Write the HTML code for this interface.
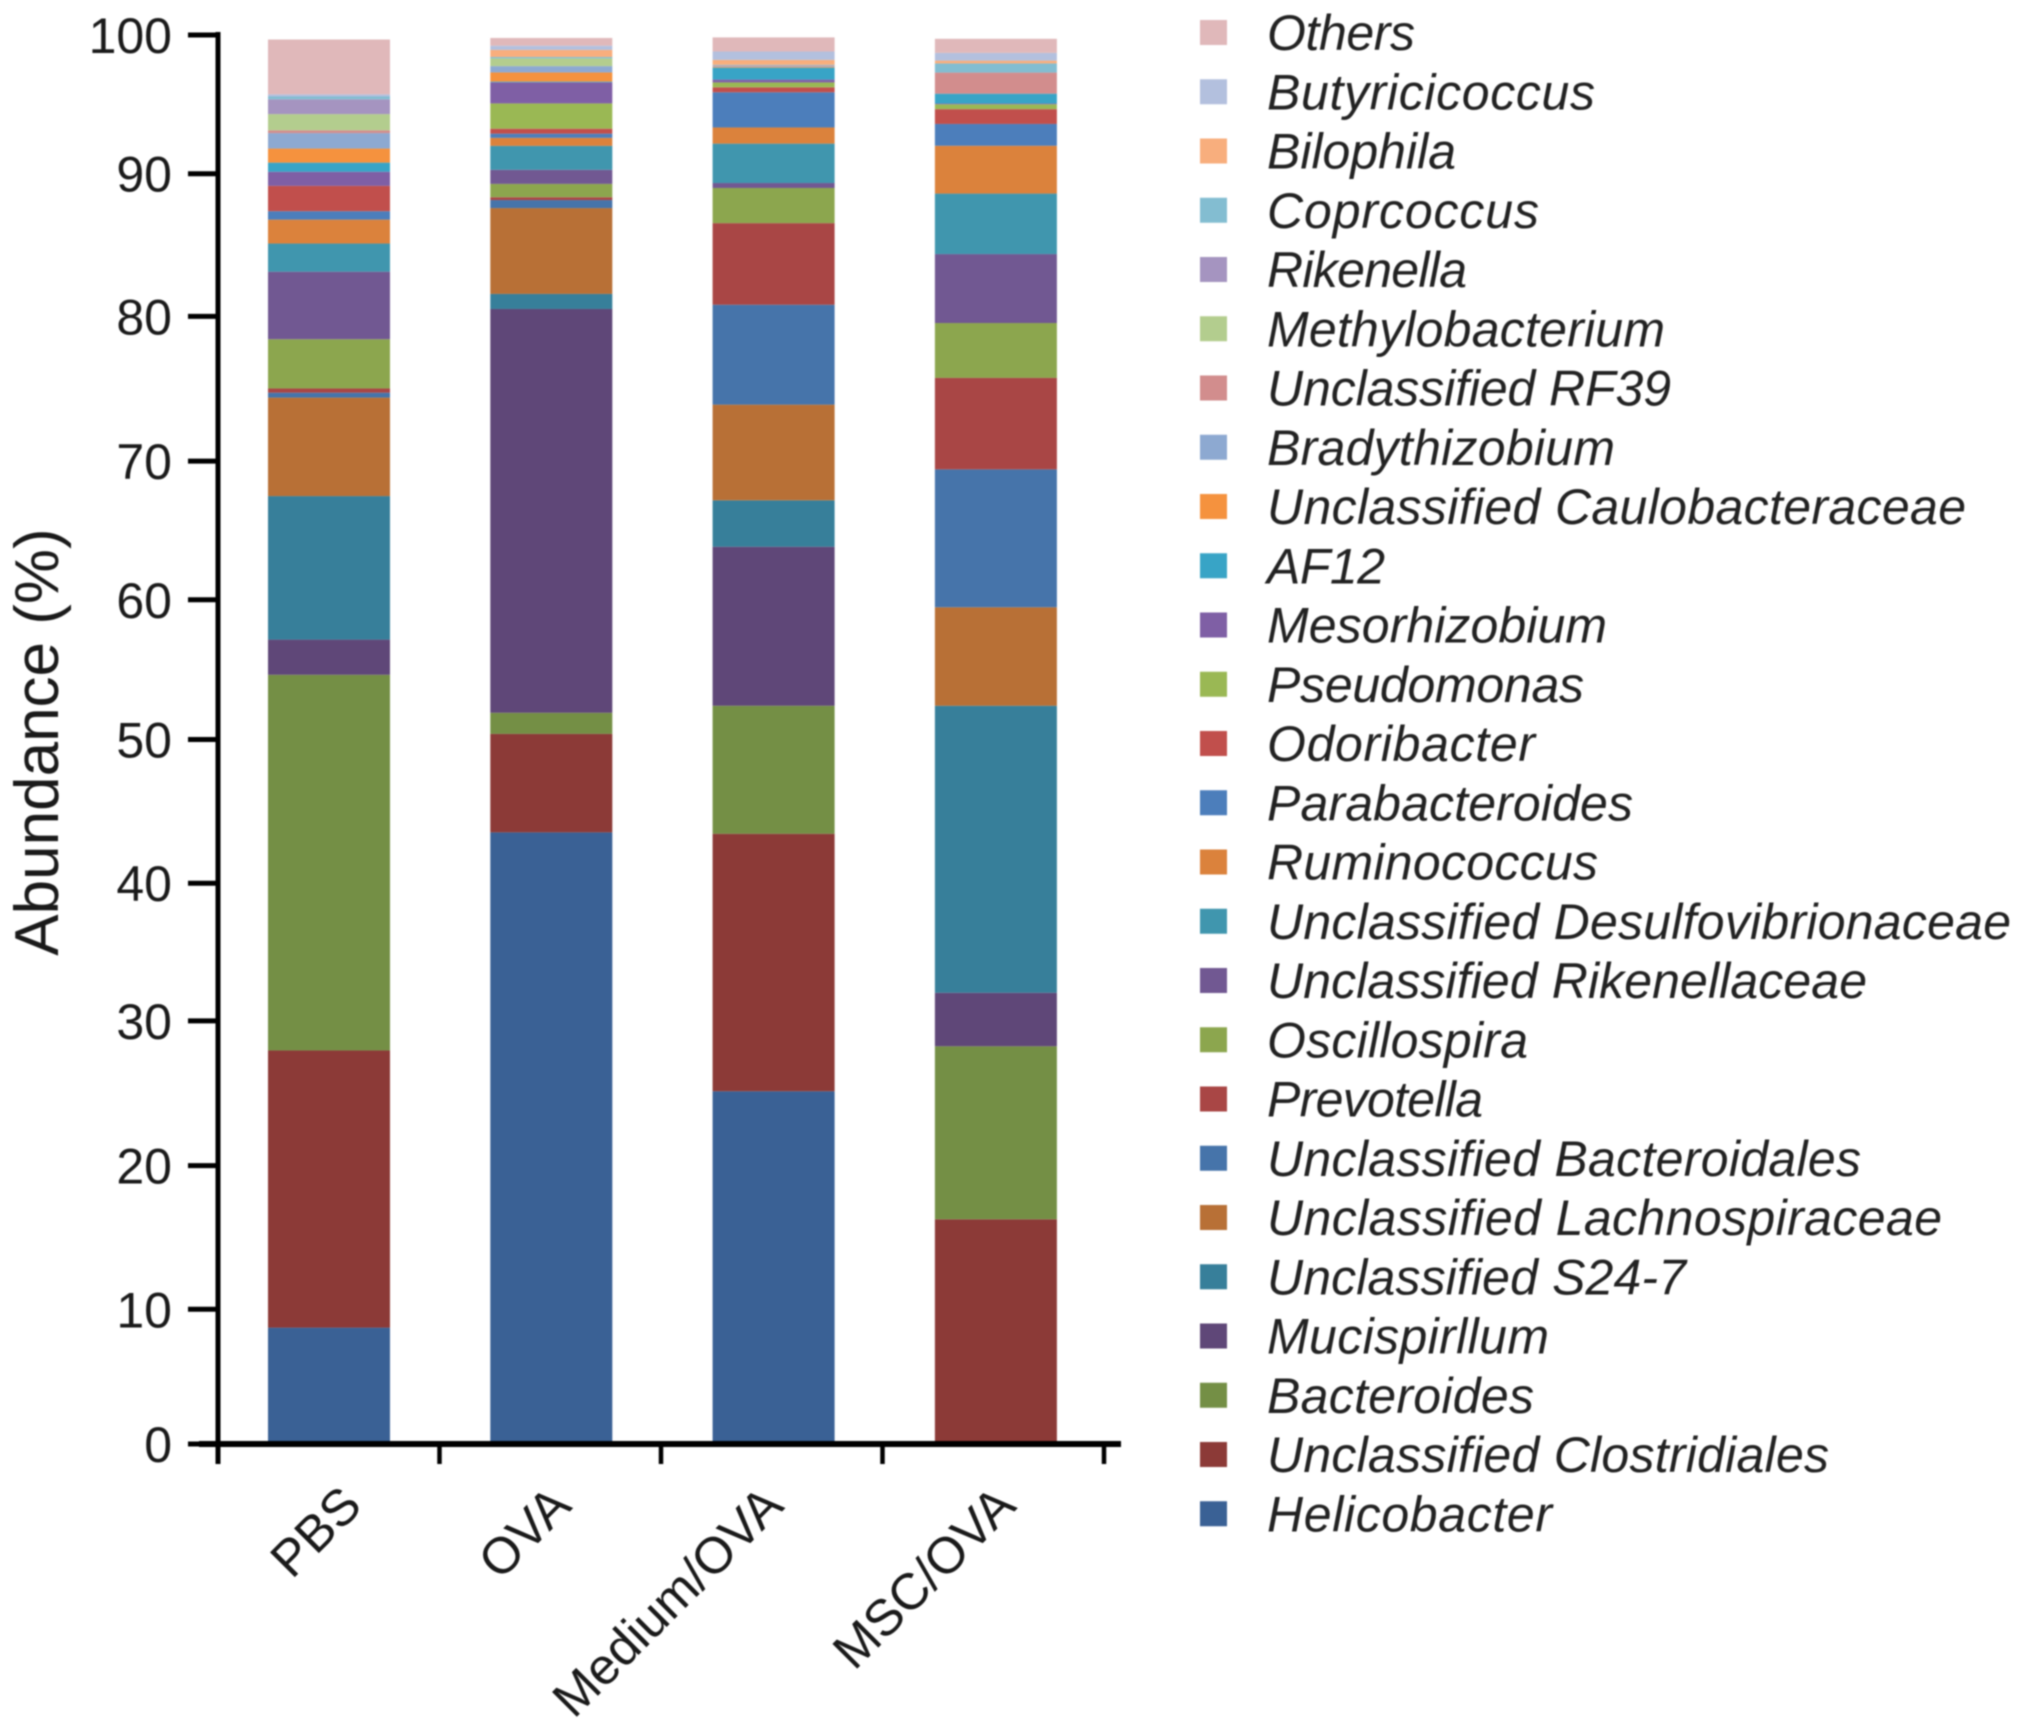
<!DOCTYPE html>
<html lang="en">
<head>
<meta charset="utf-8">
<title>Abundance stacked bar chart</title>
<style>
html,body{margin:0;padding:0;background:#fff;}
#chart{display:block;width:2020px;height:1731px;filter:blur(0.9px);font-family:"Liberation Sans",sans-serif;}
</style>
</head>
<body>
<svg id="chart" xmlns="http://www.w3.org/2000/svg" width="2020" height="1731" viewBox="0 0 2020 1731">
  <g id="bars"></g>
  <g id="axes"></g>
  <text transform="translate(58,742) rotate(-90)" text-anchor="middle" font-size="62" fill="#1a1a1a">Abundance (%)</text>
  <g id="legend"></g>
</svg>
<script>
// Categories and series (stack order: bottom to top)
const groups = ["PBS", "OVA", "Medium/OVA", "MSC/OVA"];
const seriesNames = ["Helicobacter", "Unclassified Clostridiales", "Bacteroides", "Mucispirllum", "Unclassified S24-7", "Unclassified Lachnospiraceae", "Unclassified Bacteroidales", "Prevotella", "Oscillospira", "Unclassified Rikenellaceae", "Unclassified Desulfovibrionaceae", "Ruminococcus", "Parabacteroides", "Odoribacter", "Pseudomonas", "Mesorhizobium", "AF12", "Unclassified Caulobacteraceae", "Bradythizobium", "Unclassified RF39", "Methylobacterium", "Rikenella", "Coprcoccus", "Bilophila", "Butyricicoccus", "Others"];
const seriesColors = ["#3a6195", "#8c3a37", "#748f45", "#5f4778", "#377f9a", "#b87036", "#4674aa", "#a94645", "#8ca64e", "#715892", "#4096ae", "#db823c", "#4c7ebb", "#c14f4c", "#9ab854", "#7f5fa5", "#38a4c6", "#f5923e", "#8da9d1", "#d28d8d", "#b3cd8e", "#a594c0", "#83bdd1", "#f8ae7d", "#b3c0de", "#e0b8ba"];
const valuesPBS = [8.2, 19.7, 26.7, 2.5, 10.2, 7.0, 0.35, 0.3, 3.5, 4.8, 2.0, 1.7, 0.6, 1.8, 0, 1.0, 0.65, 1.0, 1.1, 0.2, 1.15, 1.05, 0.2, 0, 0.15, 3.9];
const valuesOVA = [43.4, 7.0, 1.5, 28.7, 1.07, 6.1, 0.57, 0.2, 0.95, 1.0, 1.7, 0.57, 0.3, 0.35, 1.8, 1.5, 0.05, 0.65, 0.45, 0, 0.55, 0, 0.1, 0.5, 0.3, 0.55];
const valuesMedium = [25.0, 18.3, 9.1, 11.3, 3.3, 6.8, 7.1, 5.8, 2.5, 0.35, 2.8, 1.15, 2.5, 0.35, 0.35, 0.2, 0.85, 0.05, 0.05, 0.05, 0, 0, 0.05, 0.35, 0.6, 1.0];
const valuesMSC = [0, 15.9, 12.3, 3.8, 20.4, 7.0, 9.8, 6.5, 3.9, 4.9, 4.3, 3.4, 1.55, 1.05, 0.35, 0.05, 0.7, 0, 0, 1.5, 0, 0, 0.65, 0.2, 0.55, 1.0];
const groupValues = [valuesPBS, valuesOVA, valuesMedium, valuesMSC];
const yTicks = [0, 10, 20, 30, 40, 50, 60, 70, 80, 90, 100];

// Layout-only adjustments (pixels), independent of the data above
const tickNudge = [1, 7, 4, 0, 3, 0, 1, 3, -1, -3, -1];
const xLabelShift = [0, -13, -23, -13];
const legendTextWidths = [148, 328, 189, 272, 200, 398, 404, 348, 699, 118, 340, 317, 268, 366, 331, 744, 600, 261, 216, 594, 675, 419, 282, 267, 562, 285];

const NS = "http://www.w3.org/2000/svg";
function yScale(v) { return 1443 - 14.07 * v; }
function xCenter(i) { return 329 + 222.3 * i; }
const barWidth = 122;

function make(tag, attrs, parent) {
  const el = document.createElementNS(NS, tag);
  for (const k in attrs) el.setAttribute(k, attrs[k]);
  parent.appendChild(el);
  return el;
}

// Bars
const barsG = document.getElementById("bars");
groups.forEach(function (group, g) {
  let running = 0;
  const stack = make("g", {}, barsG);
  
  
  groupValues[g].forEach(function (value, s) {
    if (value > 0) {
      const top = yScale(running + value);
      const bottom = yScale(running);
      const seg = make("rect", {
        x: xCenter(g) - barWidth / 2,
        y: top,
        width: barWidth,
        height: bottom - top,
        fill: seriesColors[s]
      }, stack);
      
      
    }
    running += value;
  });
});

// Axes
const axesG = document.getElementById("axes");
const yLine = make("line", { x1: 218, x2: 218, y1: yScale(100) - 4, y2: 1464, stroke: "#000", "stroke-width": 5 }, axesG);


const xLine = make("line", { x1: 199, x2: 1121, y1: 1444, y2: 1444, stroke: "#000", "stroke-width": 6 }, axesG);



yTicks.forEach(function (t, i) {
  const y = yScale(t) + tickNudge[i];
  const tick = make("line", { x1: 188, x2: 218, y1: y, y2: y, stroke: "#000", "stroke-width": 5 }, axesG);
  
  
  const label = make("text", { x: 172, y: y + 18, "text-anchor": "end", "font-size": 50, fill: "#1a1a1a" }, axesG);
  
  
  label.textContent = t;
});

for (let i = 0; i <= groups.length; i++) {
  const x = 218 + 221.5 * i;
  const tick = make("line", { x1: x, x2: x, y1: 1443, y2: 1464, stroke: "#000", "stroke-width": 4.5 }, axesG);
  
  
}

groups.forEach(function (group, g) {
  const ax = xCenter(g) + 35 + xLabelShift[g];
  const ay = 1508;
  const label = make("text", {
    transform: "translate(" + ax + "," + ay + ") rotate(-45)",
    "text-anchor": "end",
    "font-size": 51,
    fill: "#1a1a1a"
  }, axesG);
  
  
  label.textContent = group;
});

// Legend (top to bottom: reverse of stack order)
const legendG = document.getElementById("legend");
const count = seriesNames.length;
for (let r = 0; r < count; r++) {
  const s = count - 1 - r;
  const cy = 32 + 59.25 * r;
  const entry = make("g", {}, legendG);
  
  
  const swatch = make("rect", { x: 1200, y: cy - 12, width: 27, height: 25, fill: seriesColors[s] }, entry);
  
  
  const text = make("text", { x: 1267, y: cy + 18, "font-size": 50, "font-style": "italic", fill: "#222", textLength: legendTextWidths[r] }, entry);
  
  
  text.textContent = seriesNames[s];
}
</script>
</body>
</html>
